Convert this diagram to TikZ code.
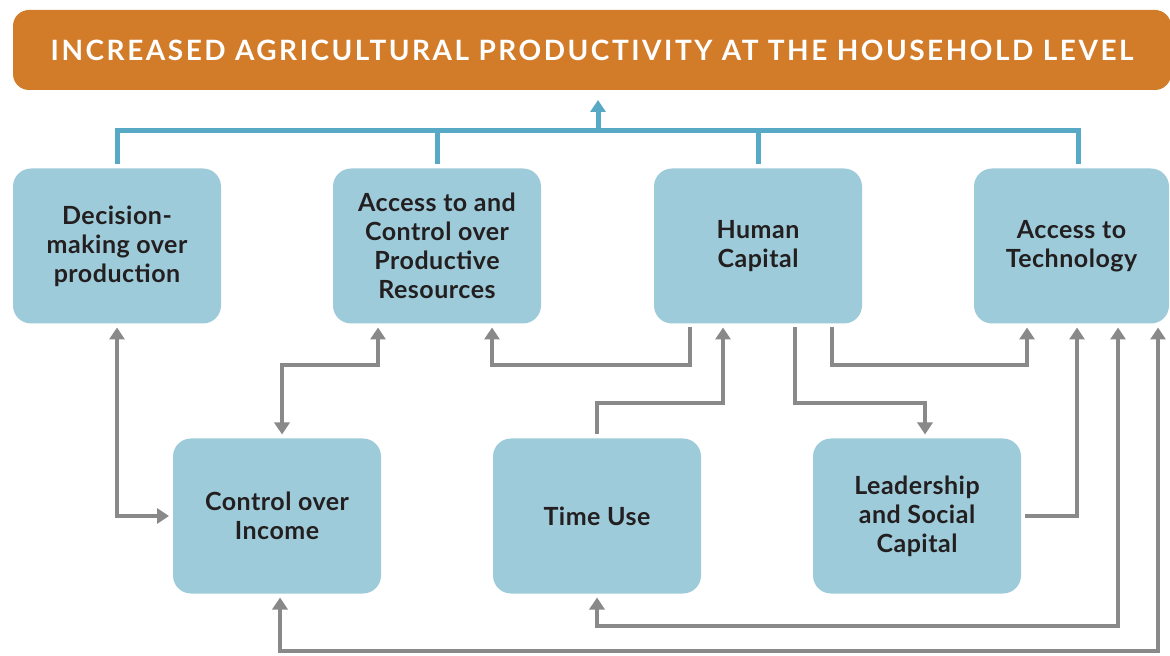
\documentclass[tikz,border=0pt]{standalone}
\usepackage{fontspec}
\setmainfont{Lato}
\newfontfamily\capsfont[LetterSpace=9.0]{Lato}
\newfontfamily\factorfont[LetterSpace=2.0]{Lato}
\usetikzlibrary{arrows.meta,calc}

\definecolor{goalorange}{HTML}{D27C2A}
\definecolor{boxblue}{HTML}{9DCBDA}
\definecolor{trunkblue}{HTML}{57A9C5}
\definecolor{linkgray}{HTML}{898989}
\definecolor{boxtext}{HTML}{231F20}

\begin{document}
\begin{tikzpicture}[x=0.5pt,y=-0.5pt,
    >={Triangle[length=6pt,width=7.5pt]},
    goal/.style={fill=goalorange,rounded corners=8pt,minimum width=579pt,
      minimum height=40pt,text=white,outer sep=5pt,
      font=\capsfont\bfseries\fontsize{14}{16}\selectfont},
    factor/.style={fill=boxblue,rounded corners=9pt,minimum width=104pt,
      minimum height=77.5pt,align=center,text=boxtext,outer sep=2pt,
      font=\factorfont\bfseries\fontsize{12.5}{14.5}\selectfont},
    trunk/.style={draw=trunkblue,line width=2.5pt},
    link/.style={draw=linkgray,line width=2pt}]
    \useasboundingbox (0,0) rectangle (1170,656);

    % outcome
    \node[goal] (goal) at (592,50) {INCREASED AGRICULTURAL PRODUCTIVITY AT THE HOUSEHOLD LEVEL};

    % upper row
    \node[factor] (dm)   at (117,246)    {Decision-\\making over\\production};
    \node[factor] (res)  at (437,246)    {Access to and\\Control over\\Productive\\Resources};
    \node[factor] (hum)  at (758,246)    {Human\\Capital};
    \node[factor,minimum width=97.5pt] (tech) at (1071.5,246) {Access to\\Technology};

    % lower row
    \node[factor] (inc)  at (277,516)    {Control over\\Income};
    \node[factor] (tim)  at (597,516)    {Time Use};
    \node[factor] (lead) at (917,516)    {Leadership\\and Social\\Capital};

    % into the outcome
    \coordinate (bus) at (598,131);
    \draw[trunk] (dm.north) -- (dm.north |- bus) -- ($(tech.north |- bus)+(6.5,0)$) -- ($(tech.north)+(6.5,0)$);
    \draw[trunk] (res.north) -- (res.north |- bus);
    \draw[trunk] (hum.north) -- (hum.north |- bus);
    \draw[trunk,->] (bus) -- (bus |- goal.south);

    % links between the factors
    \draw[link,<->] (dm.south) |- (inc.west);
    \draw[link,<->] ($(res.south)+(-59,0)$) -- ++(0,38) -| ($(inc.north)+(5,0)$);
    \draw[link,->] ($(hum.south)+(-68,0)$) -- ++(0,38) -| ($(res.south)+(55,0)$);
    \draw[link,->] (tim.north) -- ++(0,-31) -| ($(hum.south)+(-35,0)$);
    \draw[link,->] ($(hum.south)+(37,0)$) -- ++(0,76) -| ($(lead.north)+(8,0)$);
    \draw[link,->] ($(hum.south)+(74,0)$) -- ++(0,38) -| ($(tech.south)+(-44.5,0)$);
    \draw[link,->] (lead.east) -| ($(tech.south)+(5.5,0)$);
    \draw[link,<->] ($(tech.south)+(46.5,0)$) -- ++(0,298) -| (tim.south);
    \draw[link,<->] ($(tech.south)+(86.5,0)$) -- ++(0,323) -| ($(inc.south)+(3,0)$);
\end{tikzpicture}
\end{document}
